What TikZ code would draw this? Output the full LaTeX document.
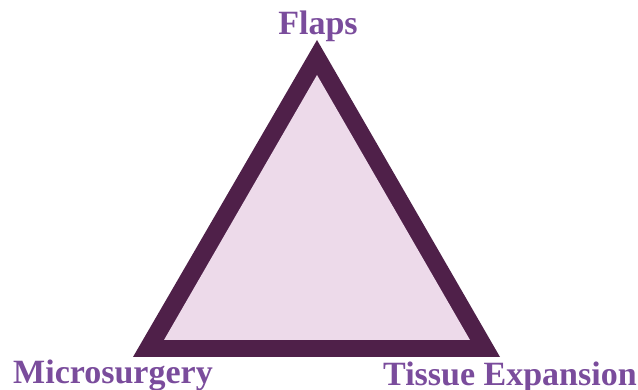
\documentclass[tikz,border=0pt]{standalone}
\usepackage{fontspec}
\setmainfont{Liberation Serif}
\definecolor{bordercol}{HTML}{4F2049}
\definecolor{fillcol}{HTML}{EDDAEA}
\definecolor{textcol}{HTML}{7A4C9C}
\begin{document}
\begin{tikzpicture}[x=1pt,y=-1pt,
  lbl/.style={text=textcol,font=\bfseries\fontsize{34}{37}\selectfont,inner sep=0pt,anchor=base}]
\useasboundingbox[fill=white] (0,0) rectangle (638,390);
\fill[bordercol] (317,40) -- (500,357) -- (133,357) -- cycle;
\fill[fillcol] (317,75) -- (470,340) -- (164,340) -- cycle;
\node[lbl] (flaps) at (318,35) {Flaps};
\node[lbl] (micro) at (113,384) {Microsurgery};
\node[lbl] (tissue) at (510,385) {Tissue Expansion};
\end{tikzpicture}
\end{document}
